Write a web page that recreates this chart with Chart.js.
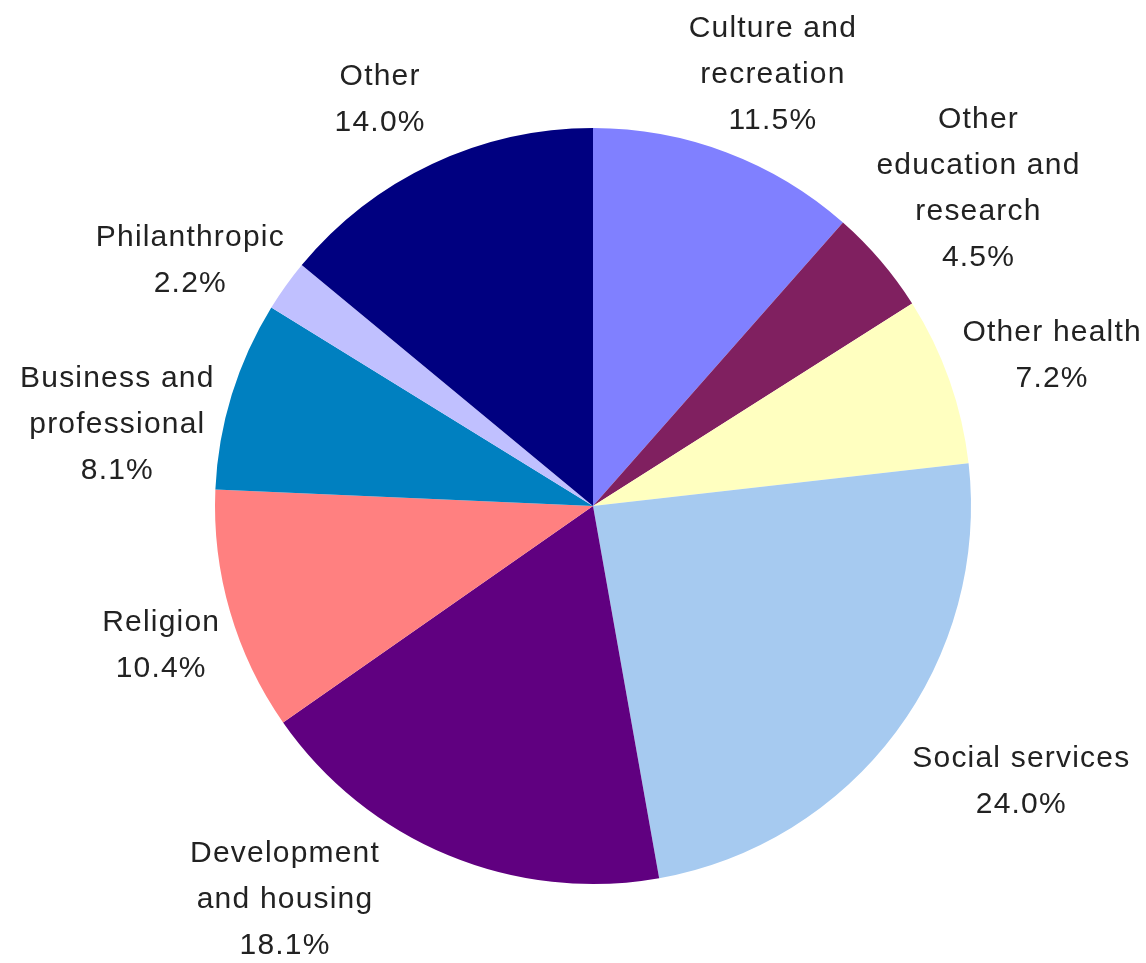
<!DOCTYPE html>
<html>
<head>
<meta charset="utf-8">
<title>Nonprofit organizations by activity</title>
<script src="https://cdn.jsdelivr.net/npm/chart.js@4.4.1/dist/chart.umd.min.js"></script>
<style>
  html, body { margin: 0; padding: 0; background: #ffffff; }
  #wrap { width: 1146px; height: 963px; }
</style>
</head>
<body>
<div id="wrap"><canvas id="pieChart"></canvas></div>
<script>
// Share of organizations by activity, clockwise from 12 o'clock
const categories = [
  ['Culture and', 'recreation'],
  ['Other', 'education and', 'research'],
  ['Other health'],
  ['Social services'],
  ['Development', 'and housing'],
  ['Religion'],
  ['Business and', 'professional'],
  ['Philanthropic'],
  ['Other']
];
const shares = [11.5, 4.5, 7.2, 24.0, 18.1, 10.4, 8.1, 2.2, 14.0];
const sliceColors = ['#8080ff', '#802060', '#ffffc0', '#a6caf0', '#600080', '#ff8080', '#0080c0', '#c0c0ff', '#000080'];

// label placement around the pie: extra distance past the rim and a small angle nudge (degrees)
const labelGap = [92, 123, 106, 130, 120, 75, 105, 95, 83];
const labelNudge = [1.8, 0.8, 1.0, -4.2, 15.7, -1.4, -7.1, -4.0, -2.3];

const FONT = '30px "Liberation Sans", Arial, sans-serif';
const LINE_H = 46;
const CAP_H = 21.5;

const outsideLabels = {
  id: 'outsideLabels',
  afterDraw(chart) {
    const ctx = chart.ctx;
    const arcs = chart.getDatasetMeta(0).data;
    ctx.save();
    ctx.font = FONT;
    ctx.letterSpacing = '1.2px';
    ctx.fillStyle = '#222222';
    ctx.textAlign = 'center';
    ctx.textBaseline = 'alphabetic';
    arcs.forEach((arc, i) => {
      const p = arc.getProps(['x', 'y', 'startAngle', 'endAngle', 'outerRadius'], true);
      const mid = (p.startAngle + p.endAngle) / 2 + labelNudge[i] * Math.PI / 180;
      const dist = p.outerRadius + labelGap[i];
      const cx = p.x + Math.cos(mid) * dist;
      const cy = p.y + Math.sin(mid) * dist;
      const lines = categories[i].concat([shares[i].toFixed(1) + '%']);
      const blockH = (lines.length - 1) * LINE_H + CAP_H;
      let y = cy - blockH / 2 + CAP_H;
      lines.forEach(line => {
        ctx.fillText(line, cx, y);
        y += LINE_H;
      });
    });
    ctx.restore();
  }
};

const pieCtx = document.getElementById('pieChart').getContext('2d');
new Chart(pieCtx, {
  type: 'pie',
  data: {
    labels: categories,
    datasets: [{
      data: shares,
      backgroundColor: sliceColors,
      borderWidth: 0,
      hoverOffset: 0,
      offset: 0
    }]
  },
  options: {
    responsive: true,
    maintainAspectRatio: false,
    animation: false,
    layout: {
      padding: { left: 215, right: 175, top: 128, bottom: 79 }
    },
    plugins: {
      legend: { display: false },
      tooltip: { enabled: false }
    }
  },
  plugins: [outsideLabels]
});
</script>
</body>
</html>
